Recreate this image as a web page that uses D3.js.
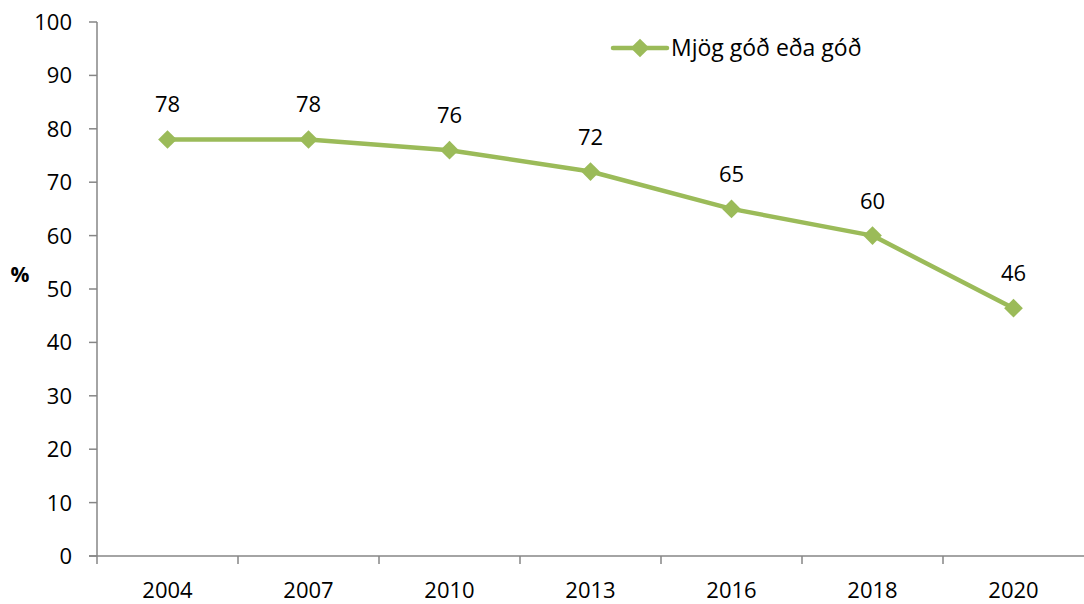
<!DOCTYPE html>
<html><head><meta charset="utf-8">
<script src="https://cdn.jsdelivr.net/npm/d3@7"></script>
<style>body{margin:0;background:#fff;} text{font-family:"Open Sans","Liberation Sans",sans-serif;}</style>
</head><body>
<svg id="c" width="1084" height="604"></svg>
<script>
const years = ["2004","2007","2010","2013","2016","2018","2020"];
const values = [78, 78, 76, 72, 65, 60, 46.4];
const yTicks = [0,10,20,30,40,50,60,70,80,90,100];
const seriesName = "Mjög góð eða góð";
const color = "#9BBB59", axisColor = "#868686";

const svg = d3.select("#c");
const m = {l:97, r:1084, t:22, b:556};
const x = d3.scaleBand().domain(years).range([m.l, m.r]);
const y = d3.scaleLinear().domain([0,100]).range([m.b, m.t]);

// y axis
const ya = svg.append("g");
ya.append("line").attr("x1",m.l).attr("x2",m.l).attr("y1",m.t).attr("y2",m.b).attr("stroke",axisColor).attr("stroke-width",1.5);
yTicks.forEach(t=>{
  ya.append("line").attr("x1",m.l-8).attr("x2",m.l).attr("y1",y(t)).attr("y2",y(t)).attr("stroke",axisColor).attr("stroke-width",1.5);
  ya.append("text").attr("x",72).attr("y",y(t)).attr("dy","0.36em").attr("text-anchor","end").attr("font-size",22).attr("fill","#000").text(t);
});
// x axis
const xa = svg.append("g");
xa.append("line").attr("x1",m.l-8).attr("x2",m.r).attr("y1",m.b).attr("y2",m.b).attr("stroke",axisColor).attr("stroke-width",1.5);
years.forEach((yr,i)=>{
  const bx = x(yr);
  xa.append("line").attr("x1",bx).attr("x2",bx).attr("y1",m.b).attr("y2",m.b+8).attr("stroke",axisColor).attr("stroke-width",1.5);
  xa.append("text").attr("x",bx+x.bandwidth()/2).attr("y",598).attr("text-anchor","middle").attr("font-size",22).attr("fill","#000").text(yr);
});
svg.append("text").attr("x",20).attr("y",282).attr("text-anchor","middle").attr("font-size",21).attr("font-weight","bold").text("%");

const cx = d => x(d.year)+x.bandwidth()/2;
const data = years.map((yr,i)=>({year:yr, v:values[i]}));
svg.append("path").datum(data).attr("fill","none").attr("stroke",color).attr("stroke-width",4.5).attr("stroke-linejoin","round")
  .attr("d", d3.line().x(cx).y(d=>y(d.v)));
svg.selectAll(".pt").data(data).join("path").attr("fill",color)
  .attr("transform",d=>`translate(${cx(d)},${y(d.v)}) rotate(45)`).attr("d", d3.symbol().type(d3.symbolSquare).size(175));
svg.selectAll(".lbl").data(data).join("text").attr("x",cx).attr("y",d=>y(d.v)-27).attr("text-anchor","middle")
  .attr("font-size",22).attr("fill","#000").text(d=>d3.format(".0f")(d.v));

// legend
const lg = svg.append("g");
lg.append("line").attr("x1",613).attr("x2",667).attr("y1",48).attr("y2",48).attr("stroke",color).attr("stroke-width",4.5).attr("stroke-linecap","round");
lg.append("path").attr("fill",color).attr("transform","translate(640,48) rotate(45)").attr("d", d3.symbol().type(d3.symbolSquare).size(175));
lg.append("text").attr("x",671).attr("y",48).attr("dy","0.36em").attr("font-size",23).attr("fill","#000").text(seriesName);
</script>
</body></html>
